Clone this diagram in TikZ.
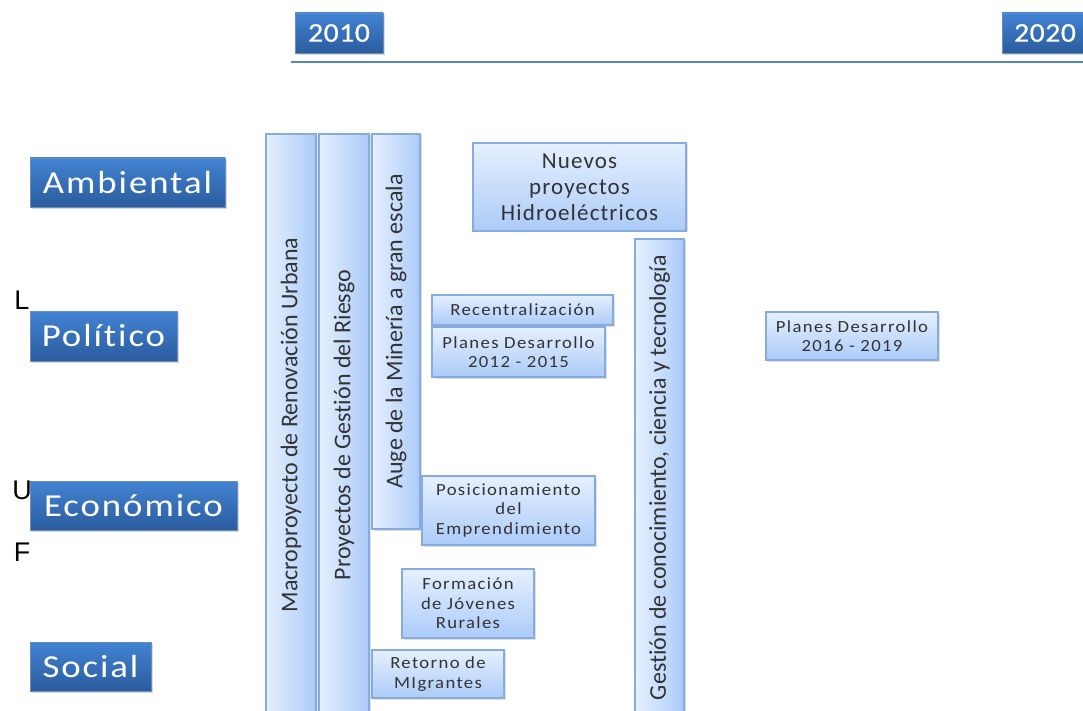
\documentclass[tikz,border=0pt]{standalone}
\usepackage{fontspec}
\setmainfont{Carlito}[Ligatures=CommonOff]
\newfontfamily\arialfont{Liberation Sans}
\usetikzlibrary{shadows}
\definecolor{catTop}{HTML}{4283D3}
\definecolor{catBot}{HTML}{2B5C9E}
\definecolor{boxTop}{HTML}{E6F0FF}
\definecolor{boxBot}{HTML}{ABCBF8}
\definecolor{boxLine}{HTML}{86ABDF}
\definecolor{boxText}{HTML}{333333}
\definecolor{lineBlue}{HTML}{5584C0}

\begin{document}
\begin{tikzpicture}[x=1pt,y=-1pt,
  cat/.style={rectangle,top color=catTop,bottom color=catBot,draw=catBot!70,line width=0.8pt,
    text=white,inner sep=0pt,font=\fontsize{32}{34}\selectfont\addfontfeature{FakeStretch=1.15,LetterSpace=6},
    drop shadow={shadow xshift=2pt,shadow yshift=-2pt,opacity=0.3}},
  year/.style={cat,font=\fontsize{27}{29}\selectfont\addfontfeature{FakeStretch=1.1,LetterSpace=2,FakeBold=0.6}},
  box/.style={rectangle,top color=boxTop,bottom color=boxBot,draw=boxLine,line width=1.2pt,
    text=boxText,inner sep=0pt,align=center,font=\fontsize{17}{19.5}\selectfont\addfontfeature{FakeStretch=1.1,LetterSpace=8},
    drop shadow={shadow xshift=1.5pt,shadow yshift=-1.5pt,opacity=0.25}},
  bar/.style={box,left color=boxTop,right color=boxBot,rotate=90,font=\fontsize{24}{26}\selectfont},
  side/.style={font=\arialfont\fontsize{27}{29}\selectfont,inner sep=0pt}]

\useasboundingbox (0,0) rectangle (1083,711);

% timeline
\node[year,minimum width=88pt,minimum height=40pt]   (y2010) at (339,33)    {2010};
\node[year,minimum width=86pt,minimum height=40pt]   (y2020) at (1045,33)   {2020};
\coordinate (t0) at (291,62);
\coordinate (t1) at (1083,62);
\draw[lineBlue,line width=2.8pt] (t0) -- (t1);

% categories
\node[cat,minimum width=195pt,minimum height=49pt]   (amb) at (127.5,182.5)  {Ambiental};
\node[cat,minimum width=147pt,minimum height=50pt]   (pol) at (103.5,336)    {Político};
\node[cat,minimum width=207pt,minimum height=49pt]   (eco) at (133.5,505.5)  {Económico};
\node[cat,minimum width=121pt,minimum height=49pt]   (soc) at (90.5,666.5)   {Social};

\node[side] (sL) at (22,300) {L};
\node[side] (sU) at (22,490) {U};
\node[side] (sF) at (22,552) {F};

% vertical bars
\node[bar,minimum width=582pt,minimum height=50pt]   (macro) at (291,425)    {Macroproyecto de Renovación Urbana};
\node[bar,minimum width=582pt,minimum height=50pt]   (riesgo) at (344,425)   {Proyectos de Gestión del Riesgo};
\node[bar,minimum width=395pt,minimum height=48pt]   (mineria) at (396,331.5) {Auge de la Minería a gran escala};
\node[bar,minimum width=477pt,minimum height=49pt]   (gestion) at (659.5,477.5) {Gestión de conocimiento, ciencia y tecnología};

% boxes
\node[box,minimum width=213pt,minimum height=88pt,font=\fontsize{23}{26}\selectfont\addfontfeature{LetterSpace=5}]
                                                     (hidro) at (579.5,187)   {Nuevos\\proyectos\\Hidroeléctricos};
\node[box,minimum width=181pt,minimum height=30pt]   (recen) at (522.5,310)   {Recentralización};
\node[box,minimum width=173pt,minimum height=50pt]   (plan1) at (518.5,352)   {Planes Desarrollo\\2012 - 2015};
\node[box,minimum width=172pt,minimum height=48pt]   (plan2) at (852,336)     {Planes Desarrollo\\2016 - 2019};
\node[box,minimum width=173pt,minimum height=69pt]   (posic) at (508.5,510.5) {Posicionamiento\\del\\Emprendimiento};
\node[box,minimum width=132pt,minimum height=69pt]   (forma) at (468,603.5)   {Formación\\de Jóvenes\\Rurales};
\node[box,minimum width=132pt,minimum height=48pt]   (retor) at (438,674)     {Retorno de\\MIgrantes};

\end{tikzpicture}
\end{document}
